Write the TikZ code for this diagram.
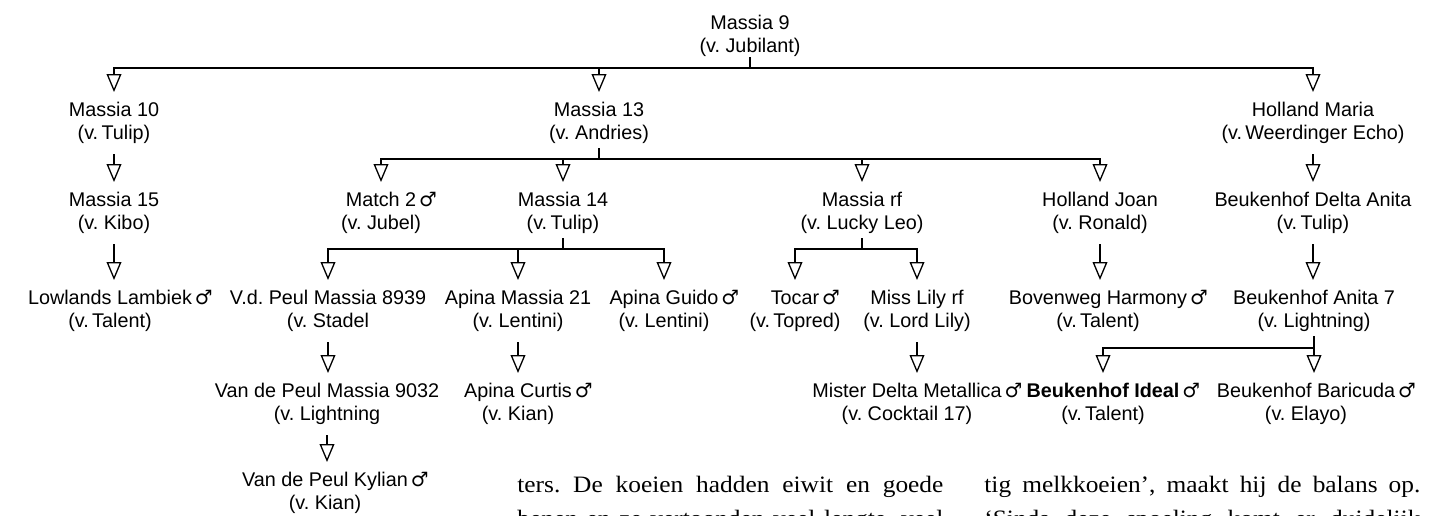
\documentclass[tikz,border=0pt]{standalone}
\usepackage{fontspec}
\usepackage{tikz}
\usetikzlibrary{arrows.meta}

\newfontfamily\treefont{Liberation Sans}
\newfontfamily\bodyfont{Liberation Serif}[FakeStretch=1.08]
\newfontfamily\symfnt{DejaVu Sans}
\newcommand\stier{\rlap{\kern1.5pt{\symfnt ♂}}}
\frenchspacing

\begin{document}
\begin{tikzpicture}[x=0.5pt, y=0.5pt,
  cow/.style={anchor=north, align=center, inner sep=0pt,
    font=\treefont\fontsize{9.9pt}{11.4pt}\selectfont},
  flow/.style={-{Triangle[open, length=9pt, width=7.4pt]}, line width=0.65pt,
    shorten <=5pt, shorten >=5pt},
  split/.style={-{Triangle[open, length=9pt, width=7.4pt]}, line width=0.65pt,
    shorten <=2pt, shorten >=5pt},
  body/.style={anchor=base west, inner sep=0pt,
    font=\bodyfont\fontsize{11.75pt}{17pt}\selectfont},
]
  \useasboundingbox (0,0) rectangle (1439,-515);
  \clip (0,0) rectangle (1439,-515);

  % --- the dam at the top ---------------------------------------------
  \node[cow] (m9) at (750,-15) {Massia 9\\(v. Jubilant)};

  % --- her daughters ---------------------------------------------------
  \node[cow] (m10) at (114,-102) {Massia 10\\(v.\,Tulip)};
  \node[cow] (m13) at (599,-102) {Massia 13\\(v. Andries)};
  \node[cow] (hm) at (1313,-102) {Holland Maria\\(v.\,Weerdinger Echo)};
  \foreach \c in {m10,m13,hm}
    \draw[split, shorten <=0pt] (m9.south) -- ++(0,-11) -| (\c.north);

  % --- second row ------------------------------------------------------
  \node[cow] (m15) at (114,-192) {Massia 15\\(v. Kibo)};
  \node[cow] (match) at (381,-192) {Match 2\stier\\(v. Jubel)};
  \node[cow] (m14) at (563,-192) {Massia 14\\(v.\,Tulip)};
  \node[cow] (mrf) at (862,-192) {Massia rf\\(v. Lucky Leo)};
  \node[cow] (hj) at (1100,-192) {Holland Joan\\(v. Ronald)};
  \node[cow] (bda) at (1313,-192) {Beukenhof Delta Anita\\(v.\,Tulip)};
  \foreach \c in {match,m14,mrf,hj}
    \draw[split] (m13.south) -- ++(0,-15) -| (\c.north);

  % --- third row -------------------------------------------------------
  \node[cow] (ll) at (110,-290) {Lowlands Lambiek\stier\\(v.\,Talent)};
  \node[cow] (vdp1) at (328,-290) {V.d. Peul Massia 8939\\(v. Stadel\vphantom{)}};
  \node[cow] (am21) at (518,-290) {Apina Massia 21\\(v. Lentini)};
  \node[cow] (ag) at (664,-290) {Apina Guido\stier\\(v. Lentini)};
  \node[cow] (tocar) at (795,-290) {Tocar\stier\\(v.\,Topred)};
  \node[cow] (mlr) at (917,-290) {Miss Lily rf\\(v. Lord Lily)};
  \node[cow] (bh) at (1098,-290) {Bovenweg Harmony\stier\\(v.\,Talent)};
  \node[cow] (ba7) at (1314,-290) {Beukenhof Anita 7\\(v. Lightning)};
  \foreach \c in {vdp1,am21,ag}
    \draw[split] (m14.south) -- ++(0,-15) -| (\c.north);
  \foreach \c in {tocar,mlr}
    \draw[split] (mrf.south) -- ++(0,-15) -| (\c.north);

  % --- fourth and fifth row --------------------------------------------
  \node[cow] (vdp2) at (327,-383) {Van de Peul Massia 9032\\(v. Lightning\vphantom{)}};
  \node[cow] (ac) at (518,-383) {Apina Curtis\stier\\(v. Kian)};
  \node[cow] (mdm) at (907,-383) {Mister Delta Metallica\stier\\(v. Cocktail 17)};
  \node[cow] (bi) at (1103,-383) {\textbf{Beukenhof Ideal}\stier\\(v.\,Talent)};
  \node[cow] (bb) at (1306,-383) {Beukenhof Baricuda\stier\\(v. Elayo)};
  \node[cow] (vdpk) at (325,-472) {Van de Peul Kylian\stier\\(v. Kian)};
  \draw[split] (ba7.south) -- ++(0,-16) -| (bi.north);
  \draw[split] (ba7.south) -- (ba7.south |- bb.north);

  % single lines of descent
  \foreach \a/\b in {m10/m15,m15/ll,hm/bda,bda/ba7,hj/bh,vdp1/vdp2,vdp2/vdpk,am21/ac,mlr/mdm}
    \draw[flow] (\a.south) -- (\a.south |- \b.north);

  % --- running text under the tree -------------------------------------
  \node[body] (c1a) at (517,-492) {\makebox[213pt][s]{ters. De koeien hadden eiwit en goede}};
  \node[body] (c1b) at (517,-526) {\makebox[213pt][s]{benen en ze vertoonden veel lengte, veel}};
  \node[body] (c2a) at (984,-492) {\makebox[218pt][s]{tig melkkoeien’, maakt hij de balans op.}};
  \node[body] (c2b) at (984,-526) {\makebox[218pt][s]{‘Sinds deze spoeling komt er duidelijk}};
\end{tikzpicture}
\end{document}
